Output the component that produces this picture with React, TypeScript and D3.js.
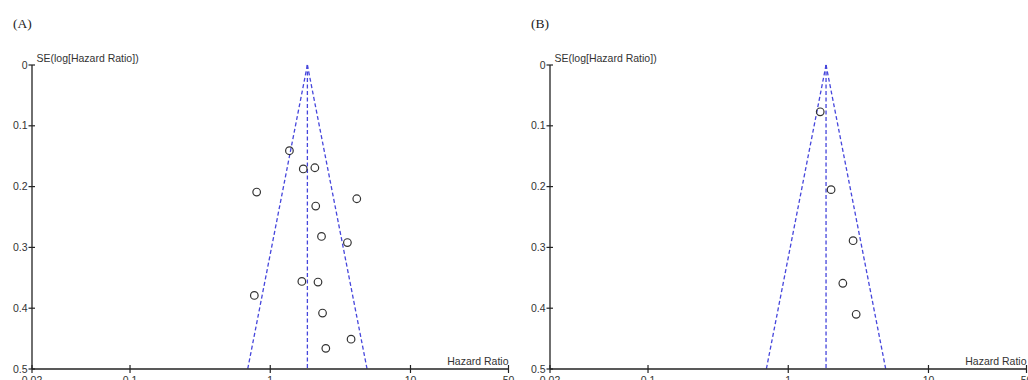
import * as d3 from "d3";

// Panel A: hazard ratios and their standard errors
const hrA = [1.37, 1.72, 2.08, 0.8, 4.14, 2.11, 2.32, 3.55, 1.68, 2.19, 0.77, 2.36, 3.77, 2.49];
const seA = [0.141, 0.171, 0.169, 0.209, 0.22, 0.232, 0.282, 0.292, 0.356, 0.357, 0.379, 0.408, 0.451, 0.466];
const pooledA = 1.84;

// Panel B
const hrB = [1.69, 2.02, 2.9, 2.45, 3.05];
const seB = [0.077, 0.205, 0.289, 0.359, 0.41];
const pooledB = 1.86;

const xTicks = [0.02, 0.1, 1, 10, 50];
const yTicks = [0, 0.1, 0.2, 0.3, 0.4, 0.5];

const W = 1028;
const H = 380;
const FONT = "'Liberation Sans', Arial, sans-serif";

interface PanelProps {
  label: string;
  left: number;
  hr: number[];
  se: number[];
  pooled: number;
}

function Panel({ label, left, hr, se, pooled }: PanelProps) {
  const x = d3.scaleLog().domain([0.02, 50]).range([left, left + 476.5]);
  const y = d3.scaleLinear().domain([0, 0.5]).range([65, 369]);
  const seMax = 0.5;
  const lo = pooled * Math.exp(-1.96 * seMax);
  const hi = pooled * Math.exp(1.96 * seMax);
  const fmtX = (v: number) => String(v);
  const fmtY = (v: number) => (v === 0 ? "0" : d3.format(".1f")(v));
  const dash = "4,2.5";
  const blue = "#4646dc";

  return (
    <g>
      <text x={left - 19} y={28} fontFamily="'Liberation Serif', 'Times New Roman', serif" fontSize={13.5} fill="#222">
        {label}
      </text>

      {/* funnel */}
      <line x1={x(pooled)} y1={y(0)} x2={x(lo)} y2={y(seMax)} stroke={blue} strokeWidth={1.3} strokeDasharray={dash} />
      <line x1={x(pooled)} y1={y(0)} x2={x(hi)} y2={y(seMax)} stroke={blue} strokeWidth={1.3} strokeDasharray={dash} />
      <line x1={x(pooled)} y1={y(0)} x2={x(pooled)} y2={y(seMax)} stroke={blue} strokeWidth={1.3} strokeDasharray={dash} />

      {/* y axis */}
      <line x1={left} y1={y(0)} x2={left} y2={y(0.5)} stroke="#222" strokeWidth={1.3} />
      {yTicks.map((t) => (
        <g key={t}>
          <line x1={left - 3.5} x2={left + 3} y1={y(t)} y2={y(t)} stroke="#222" strokeWidth={1.2} />
          <text x={left - 4.5} y={y(t)} dy="0.35em" textAnchor="end" fontFamily={FONT} fontSize={10.5} fill="#333">
            {fmtY(t)}
          </text>
        </g>
      ))}
      <text x={left + 4.5} y={62} fontFamily={FONT} fontSize={10.5} fill="#333">
        SE(log[Hazard Ratio])
      </text>

      {/* x axis */}
      <line x1={left} y1={y(0.5)} x2={x(50)} y2={y(0.5)} stroke="#222" strokeWidth={1.3} />
      {xTicks.map((t) => (
        <g key={t}>
          <line x1={x(t)} x2={x(t)} y1={y(0.5) - 4} y2={y(0.5) + 4} stroke="#222" strokeWidth={1.2} />
          <text x={x(t)} y={384} textAnchor="middle" fontFamily={FONT} fontSize={10.5} fill="#333">
            {fmtX(t)}
          </text>
        </g>
      ))}
      <text x={x(50)} y={365} textAnchor="end" fontFamily={FONT} fontSize={10.5} fill="#333">
        Hazard Ratio
      </text>

      {/* studies */}
      {hr.map((v, i) => (
        <circle key={i} cx={x(v)} cy={y(se[i])} r={3.8} fill="none" stroke="#333" strokeWidth={1.2} />
      ))}
    </g>
  );
}

export default function App() {
  return (
    <svg width={W} height={H} style={{ position: "absolute", left: 0, top: 0, background: "#fff" }}>
      <Panel label="(A)" left={32} hr={hrA} se={seA} pooled={pooledA} />
      <Panel label="(B)" left={550} hr={hrB} se={seB} pooled={pooledB} />
    </svg>
  );
}
